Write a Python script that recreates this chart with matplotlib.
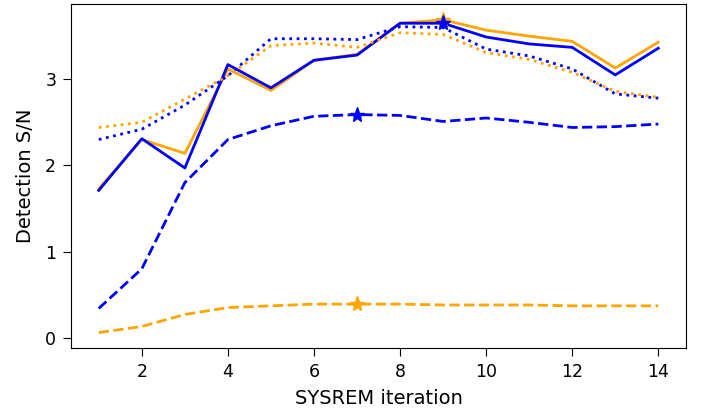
import matplotlib
matplotlib.use("Agg")
import matplotlib.pyplot as plt
import numpy as np

# SYSREM iterations
iterations = np.arange(1, 15)

# solid lines
sn_orange_solid = [1.73, 2.30, 2.14, 3.12, 2.87, 3.22, 3.29, 3.65, 3.69, 3.57, 3.50, 3.44, 3.13, 3.43]
sn_blue_solid = [1.71, 2.31, 1.97, 3.17, 2.90, 3.22, 3.28, 3.65, 3.65, 3.49, 3.41, 3.37, 3.05, 3.36]

# dotted lines
sn_orange_dotted = [2.44, 2.50, 2.77, 3.04, 3.39, 3.42, 3.37, 3.54, 3.52, 3.31, 3.23, 3.08, 2.86, 2.79]
sn_blue_dotted = [2.30, 2.42, 2.70, 3.04, 3.47, 3.47, 3.46, 3.61, 3.60, 3.35, 3.27, 3.12, 2.83, 2.78]

# dashed lines
sn_orange_dashed = [0.06, 0.13, 0.27, 0.35, 0.37, 0.39, 0.39, 0.39, 0.38, 0.38, 0.38, 0.37, 0.37, 0.37]
sn_blue_dashed = [0.34, 0.80, 1.80, 2.30, 2.46, 2.57, 2.59, 2.58, 2.51, 2.55, 2.50, 2.44, 2.45, 2.48]

# best iteration (star markers)
best_solid = 9
best_dashed = 7

fig, ax = plt.subplots(figsize=(7.01, 4.15), dpi=100)
fig.subplots_adjust(left=0.101, right=0.979, top=0.990, bottom=0.161)

lw = 2
ax.plot(iterations, sn_orange_solid, color='orange', lw=lw, ls='-')
ax.plot(iterations, sn_blue_solid, color='blue', lw=lw, ls='-')
ax.plot(iterations, sn_orange_dotted, color='orange', lw=lw, ls=':')
ax.plot(iterations, sn_blue_dotted, color='blue', lw=lw, ls=':')
ax.plot(iterations, sn_orange_dashed, color='orange', lw=lw, ls='--')
ax.plot(iterations, sn_blue_dashed, color='blue', lw=lw, ls='--')

# mark the maxima
for series, color, it in [(sn_orange_solid, 'orange', best_solid),
                          (sn_blue_solid, 'blue', best_solid),
                          (sn_blue_dashed, 'blue', best_dashed),
                          (sn_orange_dashed, 'orange', best_dashed)]:
    ax.plot(it, series[it - 1], marker='*', color=color, ms=11, ls='none')

ax.set_xticks([2, 4, 6, 8, 10, 12, 14])
ax.set_yticks([0, 1, 2, 3])
ax.tick_params(labelsize=12.5, length=5.5, pad=5)
ax.set_xlabel('SYSREM iteration', fontsize=14, labelpad=6)
ax.set_ylabel('Detection S/N', fontsize=14, labelpad=7)

fig.savefig('out.png', dpi=100)
